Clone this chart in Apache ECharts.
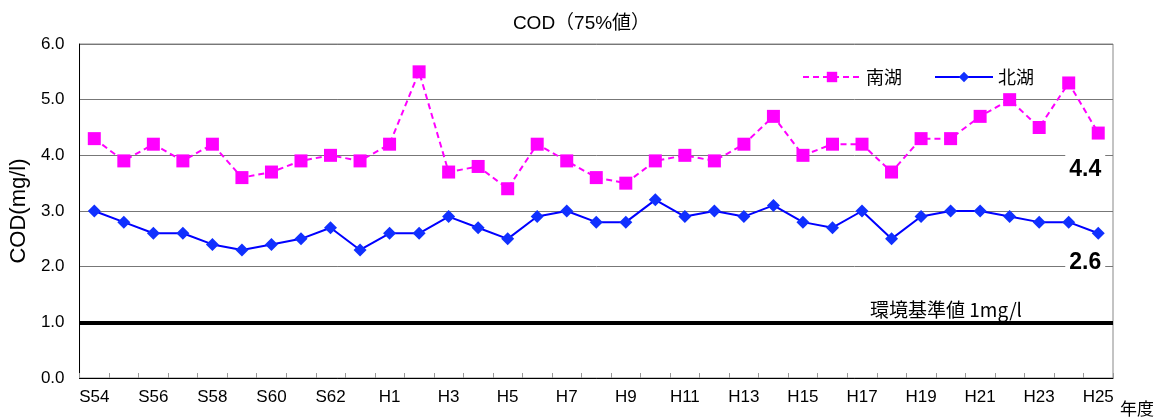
<!DOCTYPE html>
<html>
<head>
<meta charset="utf-8">
<script src="https://cdn.jsdelivr.net/npm/echarts@6/dist/echarts.min.js"></script>
<style>
  html, body { margin: 0; padding: 0; background: #fff; }
  #main { width: 1163px; height: 418px; }
</style>
</head>
<body>
<div id="main"></div>
<script>
// 年度 (昭和54〜63, 平成1〜25)
const years = [
  'S54', 'S55', 'S56', 'S57', 'S58', 'S59', 'S60', 'S61', 'S62', 'S63',
  'H1', 'H2', 'H3', 'H4', 'H5', 'H6', 'H7', 'H8', 'H9', 'H10',
  'H11', 'H12', 'H13', 'H14', 'H15', 'H16', 'H17', 'H18', 'H19', 'H20',
  'H21', 'H22', 'H23', 'H24', 'H25'
];
const south = [
  4.3, 3.9, 4.2, 3.9, 4.2, 3.6, 3.7, 3.9, 4.0, 3.9,
  4.2, 5.5, 3.7, 3.8, 3.4, 4.2, 3.9, 3.6, 3.5, 3.9,
  4.0, 3.9, 4.2, 4.7, 4.0, 4.2, 4.2, 3.7, 4.3, 4.3,
  4.7, 5.0, 4.5, 5.3, 4.4
];
const north = [
  3.0, 2.8, 2.6, 2.6, 2.4, 2.3, 2.4, 2.5, 2.7, 2.3,
  2.6, 2.6, 2.9, 2.7, 2.5, 2.9, 3.0, 2.8, 2.8, 3.2,
  2.9, 3.0, 2.9, 3.1, 2.8, 2.7, 3.0, 2.5, 2.9, 3.0,
  3.0, 2.9, 2.8, 2.8, 2.6
];
const standard = 1;

const font = 'Arial, "Liberation Sans", "Noto Sans CJK JP", sans-serif';
const cjk = '"Noto Sans CJK JP", sans-serif';

// 最終年度の値だけラベルを付ける
const lastLabel = (list, offset) => list.map((v, i) => {
  if (i !== list.length - 1) return v;
  return {
    value: v,
    label: {
      show: true,
      position: 'inside',
      offset: offset,
      formatter: (p) => p.value.toFixed(1),
      color: '#000',
      fontSize: 23,
      fontWeight: 'bold',
      fontFamily: '"Liberation Sans Narrow", Arial, sans-serif',
      backgroundColor: '#fff',
      padding: [6, 4, 4, 4]
    }
  };
});

const option = {
  animation: false,
  backgroundColor: '#fff',
  title: {
    text: 'COD（75%値）',
    left: 'center',
    top: 9,
    textStyle: { fontSize: 19, fontWeight: 'normal', color: '#000', fontFamily: font }
  },
  legend: {
    top: 63,
    right: 124,
    itemWidth: 58,
    itemHeight: 13,
    itemGap: 32,
    textStyle: { fontSize: 18, color: '#000', fontFamily: cjk },
    data: ['南湖', '北湖']
  },
  grid: {
    left: 77,
    right: 50,
    top: 44,
    bottom: 40,
    show: true,
    borderColor: '#888',
    borderWidth: 1
  },
  xAxis: {
    type: 'category',
    data: years,
    boundaryGap: true,
    name: '年度',
    nameLocation: 'end',
    nameGap: 7,
    nameTextStyle: { fontSize: 17, color: '#000', fontFamily: cjk, verticalAlign: 'top', padding: [22, 0, 0, 0] },
    axisLine: { lineStyle: { color: '#000', width: 1 } },
    axisTick: { show: true, inside: true, length: 5, interval: 0, lineStyle: { color: '#999' } },
    axisLabel: { interval: 1, color: '#000', fontSize: 17, fontFamily: font, margin: 11 },
    splitLine: { show: false }
  },
  yAxis: {
    type: 'value',
    min: 0,
    max: 6,
    interval: 1,
    name: 'COD(mg/l)',
    nameLocation: 'middle',
    nameGap: 46,
    nameRotate: 90,
    nameTextStyle: { fontSize: 22, color: '#000', fontFamily: font },
    axisLine: { show: true, lineStyle: { color: '#000', width: 1 } },
    axisTick: { show: false },
    axisLabel: { color: '#000', fontSize: 17, fontFamily: font, margin: 15, formatter: (v) => v.toFixed(1) },
    splitLine: { lineStyle: { color: '#777', width: 1 } }
  },
  series: [
    {
      name: '南湖',
      type: 'line',
      data: lastLabel(south, [-13, 37]),
      symbol: 'rect',
      symbolSize: 13,
      itemStyle: { color: '#ff00ff' },
      lineStyle: { color: '#ff00ff', width: 2, type: [6, 4] },
      z: 3
    },
    {
      name: '北湖',
      type: 'line',
      data: lastLabel(north, [-13, 29]),
      symbol: 'diamond',
      symbolSize: 13,
      itemStyle: { color: '#1030ff' },
      lineStyle: { color: '#0000ff', width: 2 },
      z: 4,
      markLine: {
        silent: true,
        symbol: 'none',
        lineStyle: { color: '#000', width: 4, type: 'solid' },
        label: {
          position: 'insideEndTop',
          formatter: '環境基準値 1mg/l',
          color: '#000',
          fontSize: 19,
          fontFamily: cjk,
          distance: [91, 3]
        },
        data: [{ yAxis: standard }]
      }
    }
  ]
};

echarts.init(document.getElementById('main')).setOption(option);
</script>
</body>
</html>
